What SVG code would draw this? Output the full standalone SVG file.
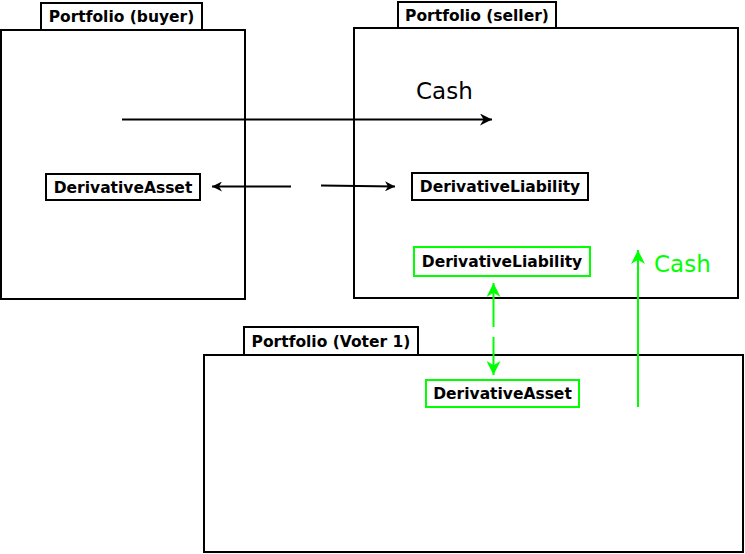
<svg xmlns="http://www.w3.org/2000/svg" width="745" height="554" viewBox="0 0 745 554">
<style>
.box{fill:none;stroke:#000;stroke-width:2}
.lbl{fill:#fff;stroke:#000;stroke-width:2}
.glbl{fill:#fff;stroke:#00ff00;stroke-width:2}
.t{font-family:"DejaVu Sans",sans-serif;font-size:15.5px;font-weight:bold;fill:#000}
.cash{font-family:"DejaVu Sans",sans-serif;font-size:23px}
.bl{stroke:#000;stroke-width:2;fill:none}
.gl{stroke:#00ff00;stroke-width:2;fill:none}
</style>
<defs>
<marker id="ab" viewBox="0 0 10 10" refX="10" refY="5" markerWidth="10" markerHeight="10" markerUnits="userSpaceOnUse" orient="auto"><path d="M0,0 L10,5 L0,10 L3,5 z" fill="#000"/></marker>
<marker id="abig" viewBox="0 0 10 10" refX="10" refY="5" markerWidth="12" markerHeight="12" markerUnits="userSpaceOnUse" orient="auto"><path d="M0,0 L10,5 L0,10 L3,5 z" fill="#000"/></marker>
<marker id="ag" viewBox="0 0 10 10" refX="10" refY="5" markerWidth="14" markerHeight="14" markerUnits="userSpaceOnUse" orient="auto"><path d="M0,0 L10,5 L0,10 L3,5 z" fill="#00ff00"/></marker>
</defs>
<rect width="745" height="554" fill="#fff"/>
<g id="portfolio-buyer">
<rect class="box" x="1" y="30" width="244" height="269"/>
<rect class="lbl" x="41" y="3" width="161" height="27"/>
<text class="t" x="121.5" y="22" text-anchor="middle">Portfolio (buyer)</text>
</g>
<g id="portfolio-seller">
<rect class="box" x="354" y="28" width="384" height="270"/>
<rect class="lbl" x="398" y="2" width="158" height="26"/>
<text class="t" x="477" y="20.5" text-anchor="middle">Portfolio (seller)</text>
</g>
<g id="portfolio-voter">
<rect class="box" x="204" y="355" width="539" height="197"/>
<rect class="lbl" x="244" y="327" width="174" height="28"/>
<text class="t" x="331" y="346.5" text-anchor="middle">Portfolio (Voter 1)</text>
</g>
<g id="buyer-asset">
<rect class="lbl" x="46" y="174" width="154" height="26"/>
<text class="t" x="123" y="192.5" text-anchor="middle">DerivativeAsset</text>
</g>
<g id="seller-liability">
<rect class="lbl" x="412" y="173" width="176" height="27"/>
<text class="t" x="500" y="192" text-anchor="middle">DerivativeLiability</text>
</g>
<g id="seller-liability-green">
<rect class="glbl" x="414" y="247" width="176" height="29"/>
<text class="t" x="502" y="267" text-anchor="middle">DerivativeLiability</text>
</g>
<g id="voter-asset">
<rect class="glbl" x="426" y="380" width="153" height="27"/>
<text class="t" x="502.5" y="399" text-anchor="middle">DerivativeAsset</text>
</g>
<g id="labels">
<text class="cash" x="416" y="99" fill="#000">Cash</text>
<text class="cash" x="654" y="272" fill="#00ff00">Cash</text>
</g>
<g id="connectors">
<line class="bl" x1="122" y1="119.5" x2="492" y2="119.5" marker-end="url(#abig)"/>
<line class="bl" x1="291" y1="186.5" x2="212" y2="186.5" marker-end="url(#ab)"/>
<line class="bl" x1="321" y1="185.5" x2="395" y2="186.5" marker-end="url(#ab)"/>
<line class="gl" x1="638" y1="407" x2="638" y2="250" marker-end="url(#ag)"/>
<line class="gl" x1="493.5" y1="327" x2="493.5" y2="283" marker-end="url(#ag)"/>
<line class="gl" x1="493.5" y1="337" x2="493.5" y2="375" marker-end="url(#ag)"/>
</g>
</svg>
